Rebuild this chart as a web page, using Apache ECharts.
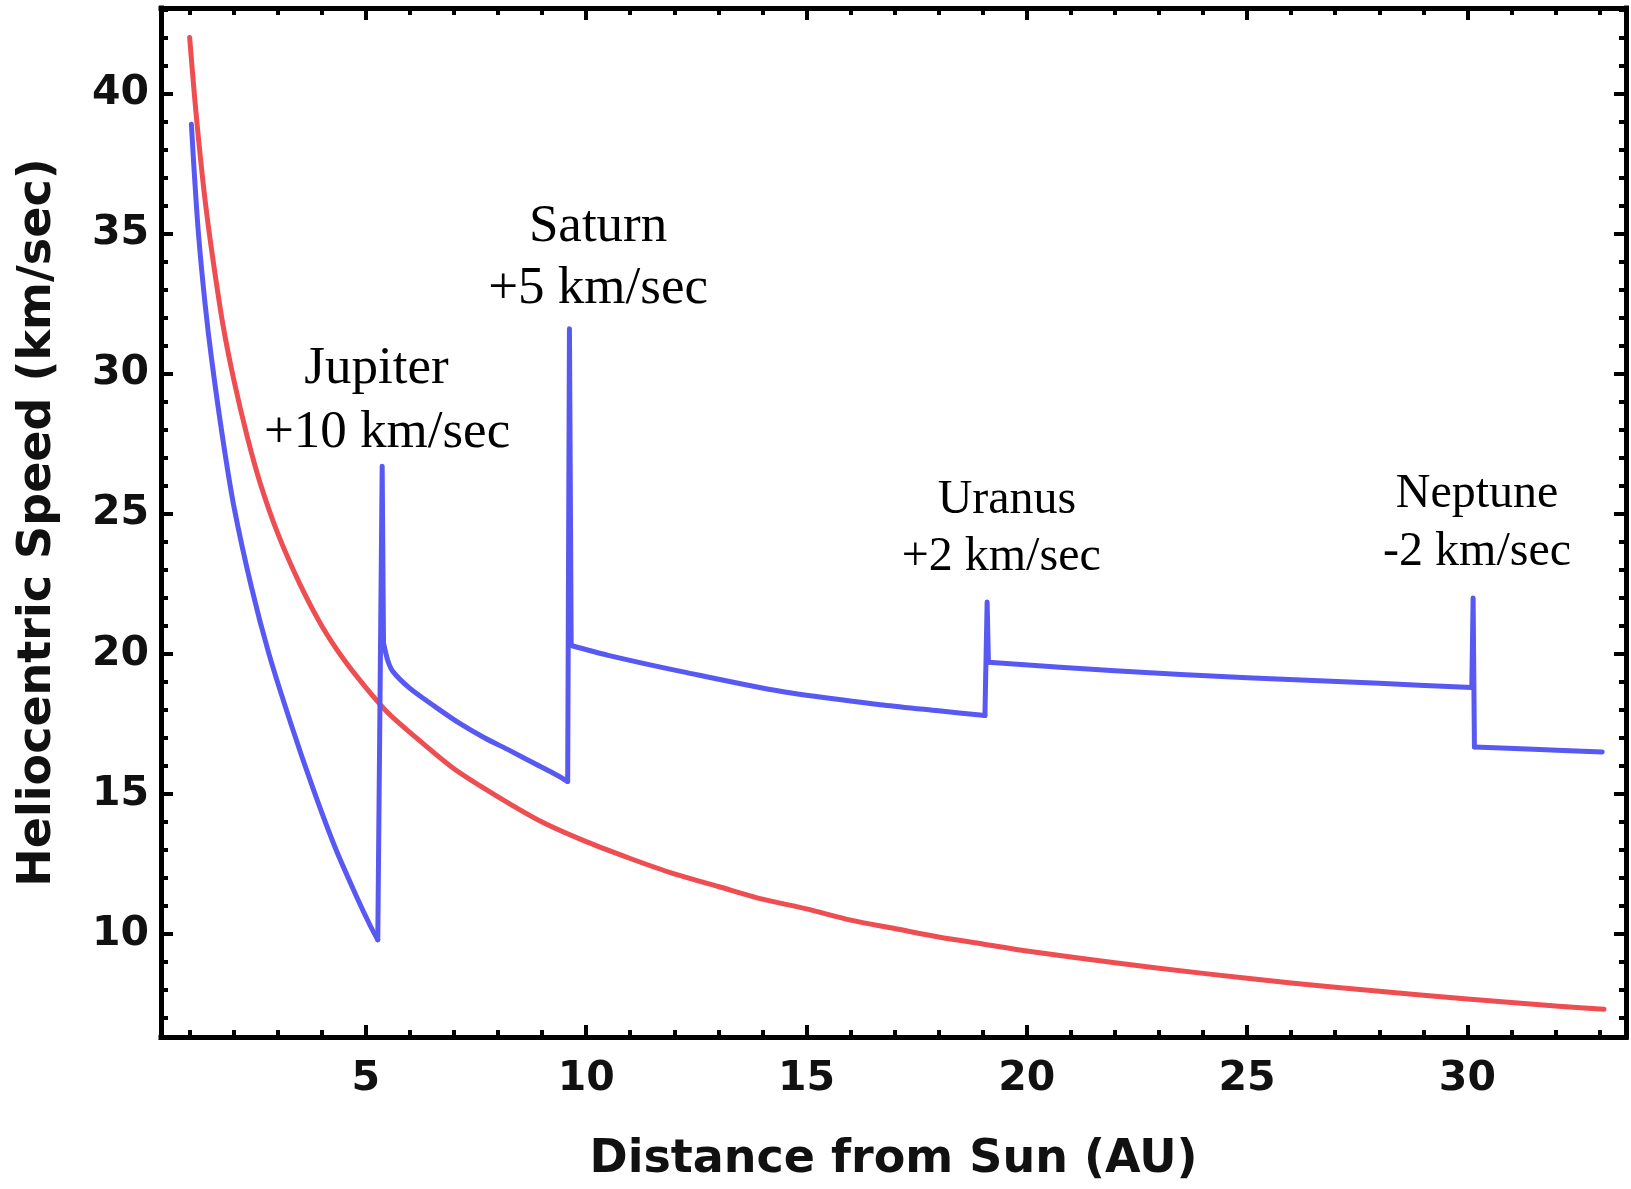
<!DOCTYPE html>
<html>
<head>
<meta charset="utf-8">
<title>Heliocentric Speed vs Distance from Sun</title>
<script src="https://cdn.jsdelivr.net/npm/echarts@6/dist/echarts.min.js"></script>
<style>
  html, body { margin: 0; padding: 0; background: #fff; }
  #main { width: 1631px; height: 1189px; }
</style>
</head>
<body>
<div id="main"></div>
<script>
// Tick values
const distanceTicks = [5, 10, 15, 20, 25, 30];
const distanceMinorTicks = [1, 2, 3, 4, 5, 6, 7, 8, 9, 10, 11, 12, 13, 14, 15, 16, 17, 18, 19, 20,
  21, 22, 23, 24, 25, 26, 27, 28, 29, 30, 31, 32, 33];
const speedTicks = [10, 15, 20, 25, 30, 35, 40];
const speedMinorTicks = [7, 8, 9, 10, 11, 12, 13, 14, 15, 16, 17, 18, 19, 20, 21, 22, 23, 24, 25,
  26, 27, 28, 29, 30, 31, 32, 33, 34, 35, 36, 37, 38, 39, 40, 41, 42, 43];

// Solar escape speed (red curve)
const escapeDistance = [1.0, 1.1, 1.2, 1.35, 1.5, 1.75, 2.0, 2.3, 2.6, 3.0, 3.5, 4.0, 4.5, 5.0, 5.5,
  6, 7, 8, 9, 10, 11, 12, 13, 14, 15, 16, 17, 18, 19, 20, 22, 24, 26, 28, 30, 32, 33.1];
const escapeSpeed = [42.0, 40.1, 38.4, 36.2, 34.4, 31.8, 29.8, 27.8, 26.1, 24.3, 22.5, 21.0, 19.8, 18.8, 17.9,
  17.2, 15.9, 14.9, 14.0, 13.3, 12.7, 12.15, 11.7, 11.25, 10.9, 10.5, 10.2, 9.9, 9.65, 9.4, 8.98, 8.6, 8.26, 7.96, 7.69, 7.44, 7.32];

// Spacecraft trajectory (blue curve): coasting legs between planets
const legEarthJupiterDist  = [1.04, 1.1, 1.2, 1.35, 1.5, 1.75, 2.0, 2.4, 2.8, 3.3, 3.8, 4.3, 4.8, 5.1, 5.27];
const legEarthJupiterSpeed = [38.9, 37.3, 35.0, 32.5, 30.5, 27.7, 25.3, 22.4, 20.0, 17.5, 15.2, 13.1, 11.3, 10.3, 9.8];
const legJupiterSaturnDist  = [5.40, 5.5, 5.62, 6.0, 6.57, 7.13, 7.7, 8.27, 8.84, 9.33, 9.5, 9.58];
const legJupiterSaturnSpeed = [20.4, 19.75, 19.36, 18.77, 18.12, 17.52, 17.0, 16.55, 16.08, 15.68, 15.52, 15.45];
const legSaturnUranusDist  = [9.66, 10.5, 12.2, 14.47, 16.74, 18.0, 18.94, 19.05];
const legSaturnUranusSpeed = [20.3, 19.95, 19.36, 18.65, 18.18, 17.97, 17.82, 17.8];
const legUranusNeptuneDist  = [19.13, 22, 25, 28, 30.1];
const legUranusNeptuneSpeed = [19.7, 19.4, 19.15, 18.95, 18.8];
const legBeyondNeptuneDist  = [30.16, 31.5, 33.06];
const legBeyondNeptuneSpeed = [16.68, 16.6, 16.5];

// Flyby speed jumps: arrival, peak, departure
const flybyJupiterDist  = [5.27, 5.37, 5.40];
const flybyJupiterSpeed = [9.8, 26.7, 20.4];
const flybySaturnDist   = [9.58, 9.62, 9.66];
const flybySaturnSpeed  = [15.45, 31.6, 20.3];
const flybyUranusDist   = [19.05, 19.1, 19.13];
const flybyUranusSpeed  = [17.8, 21.85, 19.7];
const flybyNeptuneDist  = [30.1, 30.13, 30.16];
const flybyNeptuneSpeed = [18.8, 22.0, 16.68];

// Flyby annotations
const flybyNames = ['Jupiter', 'Saturn', 'Uranus', 'Neptune'];
const flybyBoosts = ['+10 km/sec', '+5 km/sec', '+2 km/sec', '-2 km/sec'];

const zip = (xs, ys) => xs.map((x, i) => [x, ys[i]]);

const X_MIN = 0.35, X_MAX = 33.6, Y_MIN = 6.33, Y_MAX = 43.05;
const RED = '#ee4e52', BLUE = '#5858f2';
const frame = { color: '#000', width: 5, cap: 'square' };
const tickStyle = { color: '#000', width: 4 };
const labelFont = { fontFamily: 'DejaVu Sans', fontWeight: 'bold', fontSize: 41, color: '#111' };
const titleFont = { fontFamily: 'DejaVu Sans', fontWeight: 'bold', fontSize: 46, color: '#111' };

function xAxis(position, ticks, len, withLine, withLabels) {
  const ax = {
    type: 'value', position, min: X_MIN, max: X_MAX,
    axisLine: { show: withLine, onZero: false, lineStyle: frame },
    axisTick: { show: true, inside: true, length: len, lineStyle: tickStyle, customValues: ticks },
    axisLabel: withLabels ? Object.assign({ show: true, margin: 22, customValues: ticks }, labelFont) : { show: false },
    splitLine: { show: false }
  };
  if (withLabels) {
    Object.assign(ax, { name: 'Distance from Sun (AU)', nameLocation: 'middle', nameGap: 100, nameTextStyle: titleFont });
  }
  return ax;
}
function yAxis(position, ticks, len, withLine, withLabels) {
  const ax = {
    type: 'value', position, min: Y_MIN, max: Y_MAX,
    axisLine: { show: withLine, onZero: false, lineStyle: frame },
    axisTick: { show: true, inside: true, length: len, lineStyle: tickStyle, customValues: ticks },
    axisLabel: withLabels ? Object.assign({ show: true, margin: 12, customValues: ticks }, labelFont) : { show: false },
    splitLine: { show: false }
  };
  if (withLabels) {
    Object.assign(ax, { name: 'Heliocentric Speed (km/sec)', nameLocation: 'middle', nameGap: 100, nameTextStyle: titleFont });
  }
  return ax;
}

function curve(name, xs, ys, color, smooth, z) {
  return {
    name, type: 'line', xAxisIndex: 0, yAxisIndex: 0,
    data: zip(xs, ys), smooth: smooth ? 0.3 : false,
    showSymbol: false, symbol: 'none',
    lineStyle: { color, width: 5, join: 'round', cap: 'round' }, z
  };
}

const option = {
  animation: false,
  backgroundColor: '#fff',
  grid: { left: 161, right: 5, top: 8, bottom: 152, containLabel: false },
  xAxis: [
    xAxis('bottom', distanceTicks, 12, true, true),
    xAxis('bottom', distanceMinorTicks, 7, false, false),
    xAxis('top', distanceTicks, 12, true, false),
    xAxis('top', distanceMinorTicks, 7, false, false)
  ],
  yAxis: [
    yAxis('left', speedTicks, 12, true, true),
    yAxis('left', speedMinorTicks, 7, false, false),
    yAxis('right', speedTicks, 12, true, false),
    yAxis('right', speedMinorTicks, 7, false, false)
  ],
  series: [
    curve('Escape speed', escapeDistance, escapeSpeed, RED, true, 3),
    curve('Earth to Jupiter', legEarthJupiterDist, legEarthJupiterSpeed, BLUE, true, 4),
    curve('Jupiter flyby', flybyJupiterDist, flybyJupiterSpeed, BLUE, false, 4),
    curve('Jupiter to Saturn', legJupiterSaturnDist, legJupiterSaturnSpeed, BLUE, true, 4),
    curve('Saturn flyby', flybySaturnDist, flybySaturnSpeed, BLUE, false, 4),
    curve('Saturn to Uranus', legSaturnUranusDist, legSaturnUranusSpeed, BLUE, true, 4),
    curve('Uranus flyby', flybyUranusDist, flybyUranusSpeed, BLUE, false, 4),
    curve('Uranus to Neptune', legUranusNeptuneDist, legUranusNeptuneSpeed, BLUE, true, 4),
    curve('Neptune flyby', flybyNeptuneDist, flybyNeptuneSpeed, BLUE, false, 4),
    curve('Beyond Neptune', legBeyondNeptuneDist, legBeyondNeptuneSpeed, BLUE, true, 4)
  ]
};

const chart = echarts.init(document.getElementById('main'));
chart.setOption(option);

// Flyby labels, anchored in data coordinates (distance, speed)
const labelAnchors = [
  { name: [5.24, 30.17], boost: [5.48, 27.88], size: 53 },
  { name: [10.27, 35.24], boost: [10.27, 33.03], size: 53 },
  { name: [19.55, 25.49], boost: [19.42, 23.44], size: 48 },
  { name: [30.22, 25.70], boost: [30.22, 23.63], size: 48 }
];
const graphic = [];
labelAnchors.forEach((a, i) => {
  [[a.name, flybyNames[i]], [a.boost, flybyBoosts[i]]].forEach(([pos, text]) => {
    const [px, py] = chart.convertToPixel({ gridIndex: 0 }, pos);
    graphic.push({
      type: 'text', x: px, y: py, z: 10,
      style: { text, fill: '#000', font: a.size + 'px "Liberation Serif", "Times New Roman", serif', align: 'center', verticalAlign: 'middle' }
    });
  });
});
chart.setOption({ graphic });
</script>
</body>
</html>
